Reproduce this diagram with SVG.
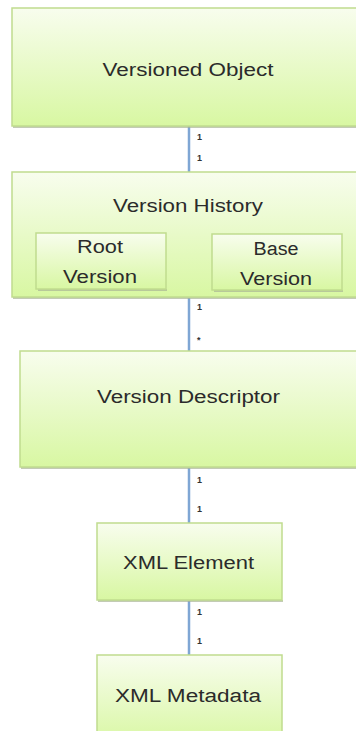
<svg xmlns="http://www.w3.org/2000/svg" width="356" height="731" viewBox="0 0 356 731">
<defs>
<linearGradient id="g" x1="0" y1="0" x2="0" y2="1">
<stop offset="0" stop-color="#f8fdee"/>
<stop offset="1" stop-color="#d8f7a2"/>
</linearGradient>
<style>
.box{fill:url(#g);stroke:#c0dc8e;stroke-width:1.5}
.sh{fill:#a9b596;opacity:0.7}
.t{font-family:"Liberation Sans",Arial,sans-serif;font-size:18px;fill:#2b2b2b;text-anchor:middle}
.c{stroke:#7fa6d4;stroke-width:2.5;fill:none}
.m{font-family:"Liberation Sans",Arial,sans-serif;font-size:9px;font-weight:bold;fill:#333}
</style>
</defs>
<rect width="356" height="731" fill="#ffffff"/>
<g id="connectors">
<line class="c" x1="189" y1="126" x2="189" y2="172"/>
<line class="c" x1="189" y1="298" x2="189" y2="351"/>
<line class="c" x1="189" y1="468" x2="189" y2="523"/>
<line class="c" x1="189" y1="601" x2="189" y2="655"/>
<text class="m" x="197" y="140">1</text>
<text class="m" x="197" y="161">1</text>
<text class="m" x="197" y="310">1</text>
<text class="m" x="197" y="343">*</text>
<text class="m" x="197" y="483">1</text>
<text class="m" x="197" y="512">1</text>
<text class="m" x="197" y="615">1</text>
<text class="m" x="197" y="644">1</text>
</g>
<g id="versioned-object">
<rect class="sh" x="13" y="126" width="350" height="2"/>
<rect class="box" x="12" y="8" width="350" height="118"/>
<text class="t" x="188" y="76" textLength="171" lengthAdjust="spacingAndGlyphs">Versioned Object</text>
</g>
<g id="version-history">
<rect class="sh" x="13" y="297" width="350" height="2"/>
<rect class="box" x="12" y="172" width="350" height="125"/>
<text class="t" x="188" y="212" textLength="150" lengthAdjust="spacingAndGlyphs">Version History</text>
<g id="root-version">
<rect class="sh" x="38" y="289" width="129" height="2"/>
<rect class="box" x="36" y="233" width="130" height="56"/>
<text class="t" x="100" y="253" textLength="46" lengthAdjust="spacingAndGlyphs">Root</text>
<text class="t" x="100" y="283" textLength="74" lengthAdjust="spacingAndGlyphs">Version</text>
</g>
<g id="base-version">
<rect class="sh" x="214" y="290" width="129" height="2"/>
<rect class="box" x="212" y="234" width="130" height="56"/>
<text class="t" x="276" y="255" textLength="45" lengthAdjust="spacingAndGlyphs">Base</text>
<text class="t" x="276" y="285" textLength="72" lengthAdjust="spacingAndGlyphs">Version</text>
</g>
</g>
<g id="version-descriptor">
<rect class="sh" x="21" y="467" width="350" height="2"/>
<rect class="box" x="20" y="351" width="350" height="116"/>
<text class="t" x="188.5" y="403" textLength="183" lengthAdjust="spacingAndGlyphs">Version Descriptor</text>
</g>
<g id="xml-element">
<rect class="sh" x="98" y="600" width="185" height="2"/>
<rect class="box" x="97" y="523" width="185" height="77"/>
<text class="t" x="188.5" y="569" textLength="131" lengthAdjust="spacingAndGlyphs">XML Element</text>
</g>
<g id="xml-metadata">
<rect class="box" x="97" y="655" width="185" height="90"/>
<text class="t" x="188" y="702" textLength="146" lengthAdjust="spacingAndGlyphs">XML Metadata</text>
</g>
</svg>
